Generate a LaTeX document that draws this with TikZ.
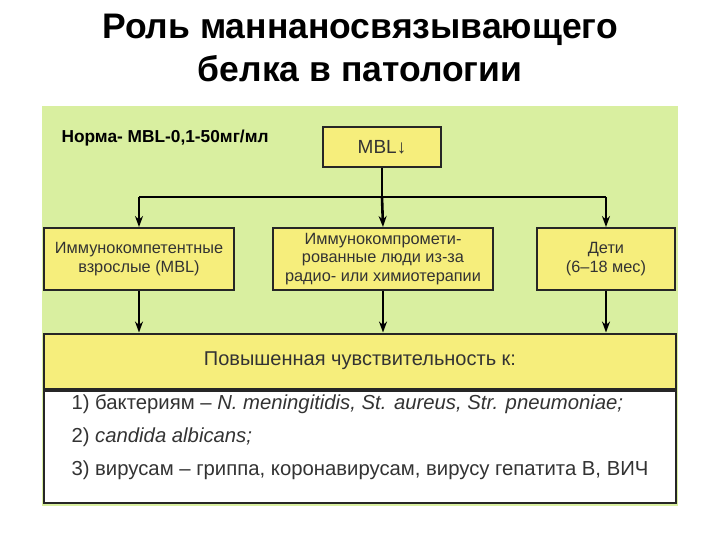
\documentclass[tikz,border=0pt]{standalone}
\usepackage{fontspec}
\setmainfont{Liberation Sans}
\usetikzlibrary{arrows.meta}
\definecolor{bg}{HTML}{D9EFA0}
\definecolor{yel}{HTML}{F6EE7C}
\definecolor{txt}{HTML}{333333}
\begin{document}
\begin{tikzpicture}[x=1pt,y=-1pt,
  box/.style={draw=black!85,line width=2pt,fill=yel,text=txt,align=center,font=\fontsize{16.3}{18.5}\selectfont,inner sep=0pt},
  arr/.style={line width=2.6pt,-{Stealth[length=11pt,width=8pt]}}]
\useasboundingbox (0,0) rectangle (720,540);
\fill[white] (0,0) rectangle (720,540);
\fill[bg] (42,106) rectangle (678,506);
\node[font=\bfseries\fontsize{35.5}{43}\selectfont,align=center] (title) at (360,48) {Роль маннаносвязывающего\\белка в патологии};
\node[anchor=west,font=\bfseries\fontsize{17.3}{19}\selectfont] (norma) at (58,138) {Норма- MBL-0,1-50мг/мл};
\node[box,minimum width=118pt,minimum height=40pt,font=\fontsize{19}{21}\selectfont] (mbl) at (382,147) {MBL↓};
\node[box,minimum width=190pt,minimum height=62pt] (b1) at (139,259) {Иммунокомпетентные\\взрослые (MBL)};
\node[box,minimum width=220pt,minimum height=62pt] (b2) at (383,259) {Иммунокомпромети-\\рованные люди из-за\\радио- или химиотерапии};
\node[box,minimum width=138pt,minimum height=62pt] (b3) at (606,259) {Дети\\(6–18 мес)};
\node[box,minimum width=632pt,minimum height=55pt,font=\fontsize{20}{22}\selectfont] (hdr) at (360,361) {Повышенная чувствительность к:};
\node[box,fill=white,minimum width=632pt,minimum height=112pt,anchor=north] (lst) at (hdr.south) {};
\node[anchor=west,text=txt,font=\fontsize{20.3}{22}\selectfont] (l1) at (68,404) {1) бактериям – \textit{N. meningitidis, St. aureus, Str. pneumoniae;}};
\node[anchor=west,text=txt,font=\fontsize{20.3}{22}\selectfont] (l2) at (68,437) {2) \textit{candida albicans;}};
\node[anchor=west,text=txt,font=\fontsize{20.3}{22}\selectfont] (l3) at (68,470) {3) вирусам – гриппа, коронавирусам, вирусу гепатита В, ВИЧ};
\coordinate (j) at (mbl.south|-0,197);
\coordinate (jl) at (b1.north|-0,197);
\coordinate (jr) at (b3.north|-0,197);
\draw[line width=2.6pt] (mbl.south) -- (j);
\draw[line width=2.6pt] (jl) -- (jr);
\draw[arr] (jl) -- (b1.north);
\draw[arr] (j) -- (b2.north);
\draw[arr] (jr) -- (b3.north);
\draw[arr] (b1.south) -- (b1.south|-hdr.north);
\draw[arr] (b2.south) -- (b2.south|-hdr.north);
\draw[arr] (b3.south) -- (b3.south|-hdr.north);
\end{tikzpicture}
\end{document}
